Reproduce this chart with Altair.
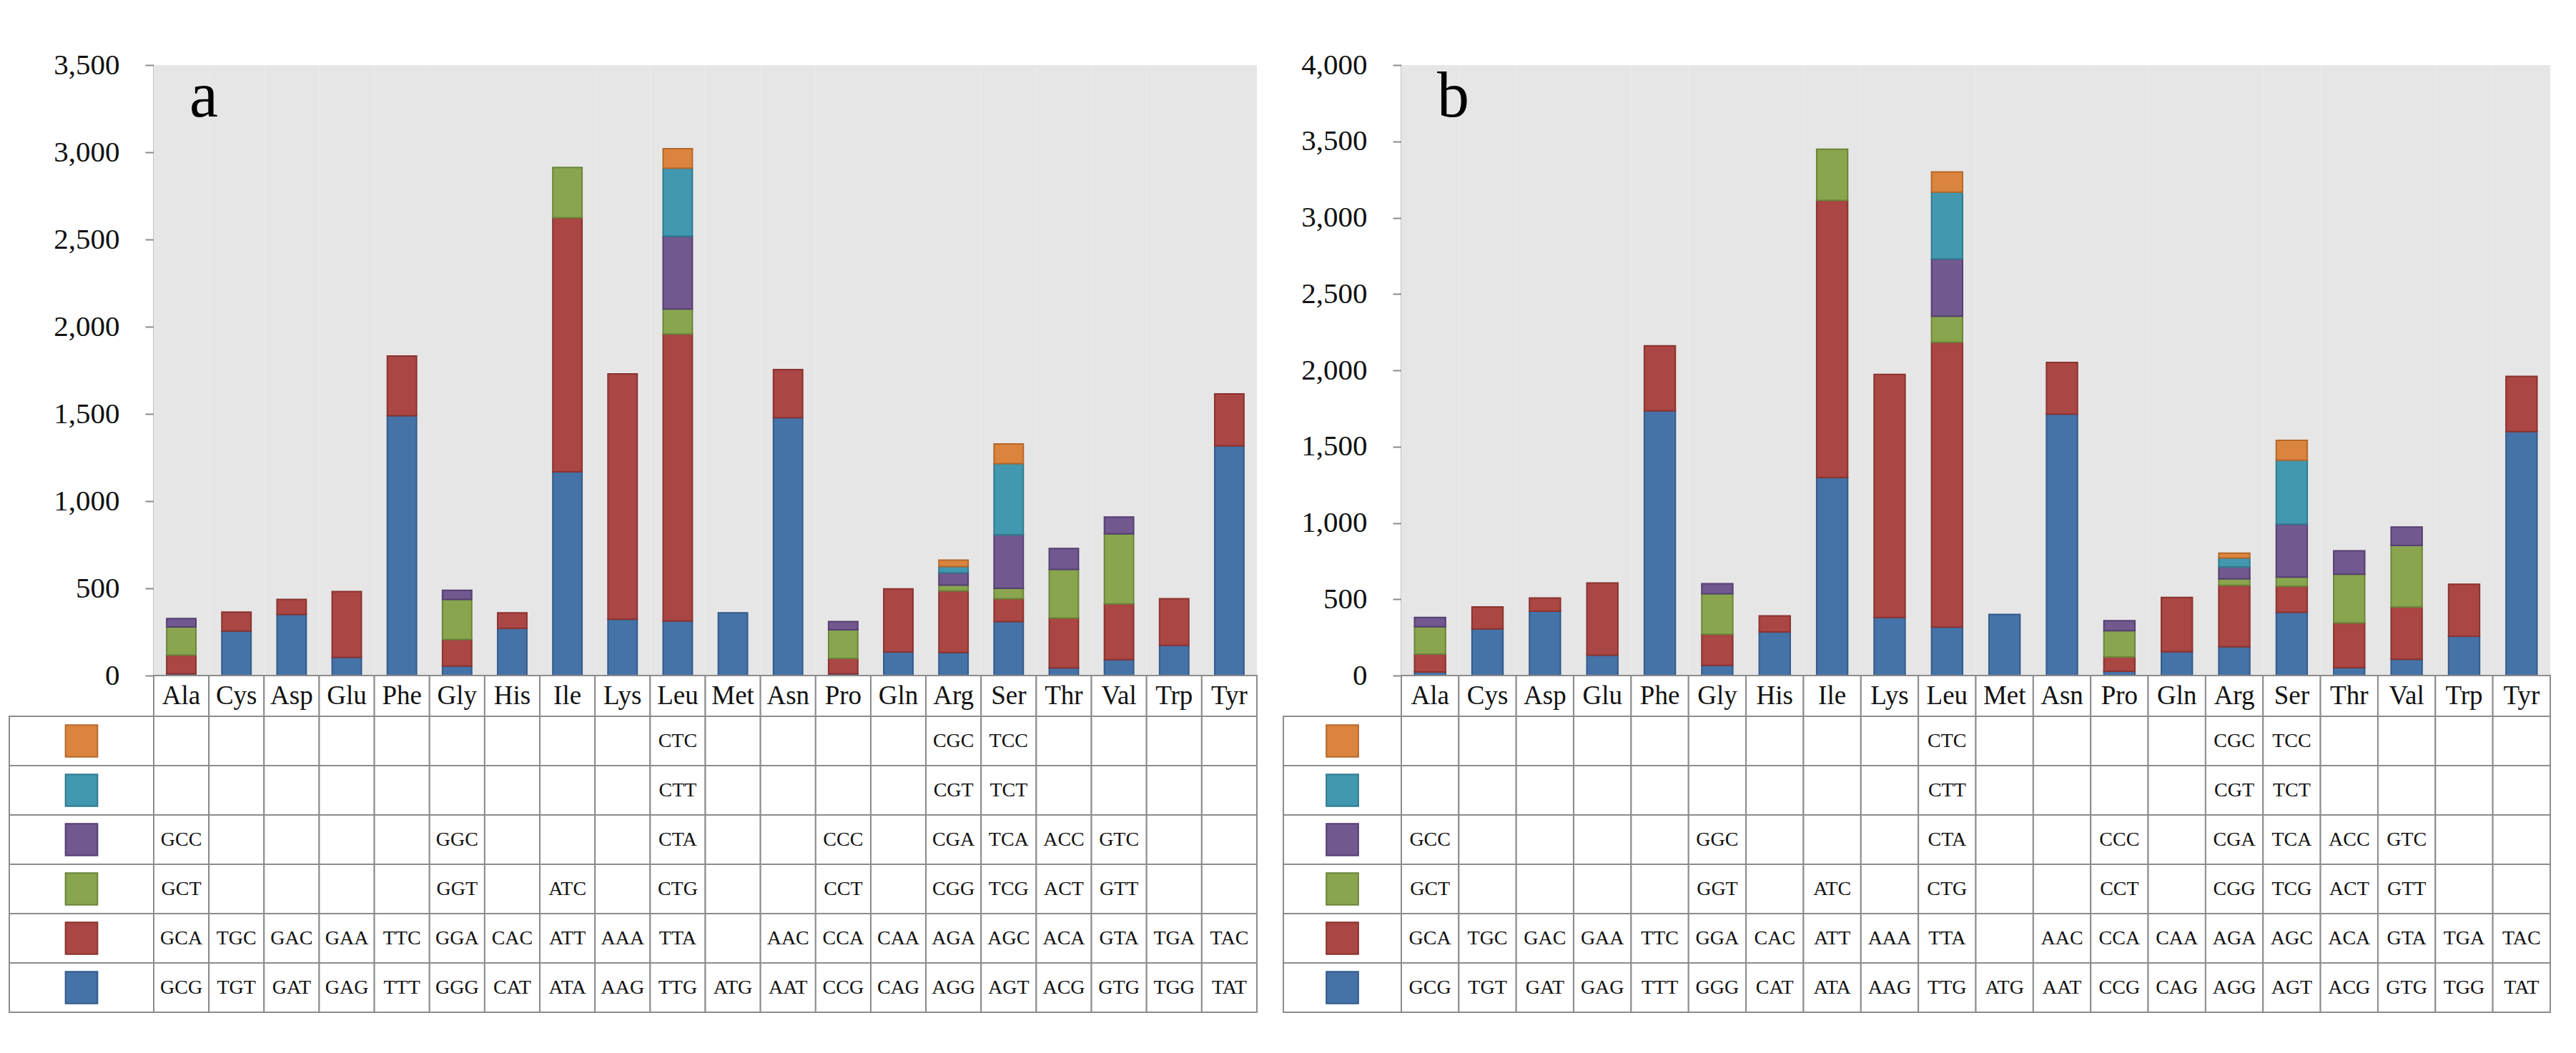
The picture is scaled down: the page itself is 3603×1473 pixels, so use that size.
import altair as alt
import pandas as pd

AMINO = ["Ala", "Cys", "Asp", "Glu", "Phe", "Gly", "His", "Ile", "Lys", "Leu",
         "Met", "Asn", "Pro", "Gln", "Arg", "Ser", "Thr", "Val", "Trp", "Tyr"]

# series order: bottom (blue) -> top (orange)
SERIES = ["blue", "red", "green", "purple", "cyan", "orange"]
FILL = ["#4572A7", "#AA4643", "#89A54E", "#71588F", "#4198AF", "#DB843D"]
EDGE = ["#335B8C", "#8A3330", "#6B853A", "#553F72", "#2F7A8E", "#B5682B"]

# panel a values
A_BLUE = [10, 255, 350, 105, 1490, 54, 271, 1168, 323, 313, 360, 1478, 10, 135, 132, 309, 44, 91, 173, 1317]
A_RED = [108, 109, 86, 377, 342, 153, 89, 1457, 1407, 1645, 0, 276, 88, 362, 354, 132, 286, 320, 268, 298]
A_GREEN = [161, 0, 0, 0, 0, 229, 0, 288, 0, 143, 0, 0, 164, 0, 32, 59, 279, 402, 0, 0]
A_PURPLE = [48, 0, 0, 0, 0, 53, 0, 0, 0, 417, 0, 0, 47, 0, 71, 307, 119, 96, 0, 0]
A_CYAN = [0, 0, 0, 0, 0, 0, 0, 0, 0, 391, 0, 0, 0, 0, 36, 408, 0, 0, 0, 0]
A_ORANGE = [0, 0, 0, 0, 0, 0, 0, 0, 0, 111, 0, 0, 0, 0, 37, 113, 0, 0, 0, 0]

# panel b values
B_BLUE = [23, 306, 422, 133, 1734, 67, 286, 1297, 380, 317, 400, 1713, 28, 156, 188, 414, 52, 106, 258, 1598]
B_RED = [118, 144, 86, 473, 426, 203, 105, 1816, 1593, 1867, 0, 338, 94, 356, 403, 172, 293, 344, 340, 362]
B_GREEN = [179, 0, 0, 0, 0, 266, 0, 336, 0, 171, 0, 0, 172, 0, 43, 59, 319, 403, 0, 0]
B_PURPLE = [60, 0, 0, 0, 0, 66, 0, 0, 0, 375, 0, 0, 65, 0, 78, 347, 153, 120, 0, 0]
B_CYAN = [0, 0, 0, 0, 0, 0, 0, 0, 0, 438, 0, 0, 0, 0, 58, 419, 0, 0, 0, 0]
B_ORANGE = [0, 0, 0, 0, 0, 0, 0, 0, 0, 132, 0, 0, 0, 0, 32, 130, 0, 0, 0, 0]

# codon table (same for both panels)
C_BLUE = ["GCG", "TGT", "GAT", "GAG", "TTT", "GGG", "CAT", "ATA", "AAG", "TTG",
          "ATG", "AAT", "CCG", "CAG", "AGG", "AGT", "ACG", "GTG", "TGG", "TAT"]
C_RED = ["GCA", "TGC", "GAC", "GAA", "TTC", "GGA", "CAC", "ATT", "AAA", "TTA",
         "", "AAC", "CCA", "CAA", "AGA", "AGC", "ACA", "GTA", "TGA", "TAC"]
C_GREEN = ["GCT", "", "", "", "", "GGT", "", "ATC", "", "CTG",
           "", "", "CCT", "", "CGG", "TCG", "ACT", "GTT", "", ""]
C_PURPLE = ["GCC", "", "", "", "", "GGC", "", "", "", "CTA",
            "", "", "CCC", "", "CGA", "TCA", "ACC", "GTC", "", ""]
C_CYAN = ["", "", "", "", "", "", "", "", "", "CTT",
          "", "", "", "", "CGT", "TCT", "", "", "", ""]
C_ORANGE = ["", "", "", "", "", "", "", "", "", "CTC",
            "", "", "", "", "CGC", "TCC", "", "", "", ""]
CODONS = [C_BLUE, C_RED, C_GREEN, C_PURPLE, C_CYAN, C_ORANGE]

# layout (pixels)
BAR_H = 854
HEADER_PX = 57
ROW_PX = 69
FONT = "Liberation Serif"
GRID = "#8C8C8C"


def panel(values, ymax, tag, key_w, plot_w, bar_frac):
    u = ymax / BAR_H  # data units per pixel
    ymin = -(HEADER_PX + 6 * ROW_PX) * u
    yscale = alt.Scale(domain=[ymin, ymax], nice=False, zero=False)
    yax = alt.Axis(values=list(range(0, ymax + 1, 500)), format=",d", title=None,
                   labelFont=FONT, labelFontSize=41, labelColor="#111",
                   labelPadding=36, tickSize=12, tickColor="#8A8A8A", tickWidth=2,
                   domainColor="#8A8A8A", domainWidth=2, grid=False)
    xscale = alt.Scale(domain=AMINO, paddingInner=0, paddingOuter=0)
    X = alt.X("amino:N", scale=xscale, axis=None, sort=AMINO)
    fill = alt.Fill("series:N", scale=alt.Scale(domain=SERIES, range=FILL), legend=None)
    stroke = alt.Stroke("series:N", scale=alt.Scale(domain=SERIES, range=EDGE), legend=None)

    bg_df = pd.DataFrame({"amino": AMINO, "lo": 0, "hi": ymax})

    bar_rows = []
    for s, (name, vals) in enumerate(zip(SERIES, values)):
        for a, v in zip(AMINO, vals):
            if v > 0:
                bar_rows.append({"amino": a, "series": name, "sidx": s, "value": v})
    bar_df = pd.DataFrame(bar_rows)

    head_df = pd.DataFrame({"amino": AMINO, "top": 0.0, "bot": -HEADER_PX * u,
                            "mid": -HEADER_PX * u / 2})

    cell_rows, key_rows = [], []
    for s, name in enumerate(SERIES):
        r = 5 - s  # table row from top
        top = -(HEADER_PX + r * ROW_PX) * u
        bot = top - ROW_PX * u
        mid = (top + bot) / 2
        key_rows.append({"series": name, "top": top, "bot": bot, "mid": mid})
        for a, c in zip(AMINO, CODONS[s]):
            cell_rows.append({"amino": a, "top": top, "bot": bot, "mid": mid, "codon": c})
    cell_df = pd.DataFrame(cell_rows)
    key_df = pd.DataFrame(key_rows)

    Y = lambda f: alt.Y(f, scale=yscale, axis=yax)

    bg = alt.Chart(bg_df).mark_rect(color="#E6E6E6").encode(x=X, y=Y("lo:Q"), y2="hi:Q")
    bars = alt.Chart(bar_df).mark_bar(width=alt.RelativeBandSize(bar_frac), strokeWidth=2).encode(
        x=X, y=alt.Y("value:Q", stack="zero", scale=yscale, axis=yax),
        fill=fill, stroke=stroke, order=alt.Order("sidx:Q", sort="ascending"))
    head = alt.Chart(head_df).mark_rect(fill="white", stroke=GRID, strokeWidth=2).encode(
        x=X, y=Y("top:Q"), y2="bot:Q")
    cells = alt.Chart(cell_df).mark_rect(fill="white", stroke=GRID, strokeWidth=2).encode(
        x=X, y=Y("top:Q"), y2="bot:Q")
    keycells = alt.Chart(key_df).mark_rect(fill="white", stroke=GRID, strokeWidth=2).encode(
        x=alt.value(-key_w), x2=alt.value(0), y=Y("top:Q"), y2="bot:Q")
    swatch = alt.Chart(key_df).mark_square(size=2000, filled=True, opacity=1, strokeWidth=2).encode(
        x=alt.value(-key_w / 2), y=Y("mid:Q"), fill=fill, stroke=stroke)
    codon_txt = alt.Chart(cell_df[cell_df["codon"] != ""]).mark_text(
        font=FONT, fontSize=28, color="#111", baseline="middle", align="center").encode(
        x=X, y=Y("mid:Q"), text="codon:N")
    head_txt = alt.Chart(head_df).mark_text(
        font=FONT, fontSize=37, color="#111", baseline="middle", align="center").encode(
        x=X, y=Y("mid:Q"), text="amino:N")
    tag_txt = alt.Chart(pd.DataFrame({"t": [tag]})).mark_text(
        font=FONT, fontSize=90, color="#000", baseline="alphabetic", align="left").encode(
        x=alt.value(50), y=alt.value(72), text="t:N")

    return alt.layer(bg, bars, head, cells, keycells, swatch, codon_txt, head_txt, tag_txt).properties(
        width=plot_w, height=BAR_H + HEADER_PX + 6 * ROW_PX)


pa = panel([A_BLUE, A_RED, A_GREEN, A_PURPLE, A_CYAN, A_ORANGE], 3500, "a", 202, 1543, 0.53)
pb = panel([B_BLUE, B_RED, B_GREEN, B_PURPLE, B_CYAN, B_ORANGE], 4000, "b", 165, 1607, 0.54)

chart = alt.hconcat(pa, pb, spacing=34).properties(
    padding={"left": 4, "top": 62, "right": 0, "bottom": 0},
    background="white",
).configure(font=FONT).configure_axis(labelFont=FONT).configure_text(font=FONT).configure_view(stroke=None)

chart.save("out.html", embed_options={"renderer": "svg", "actions": False})
